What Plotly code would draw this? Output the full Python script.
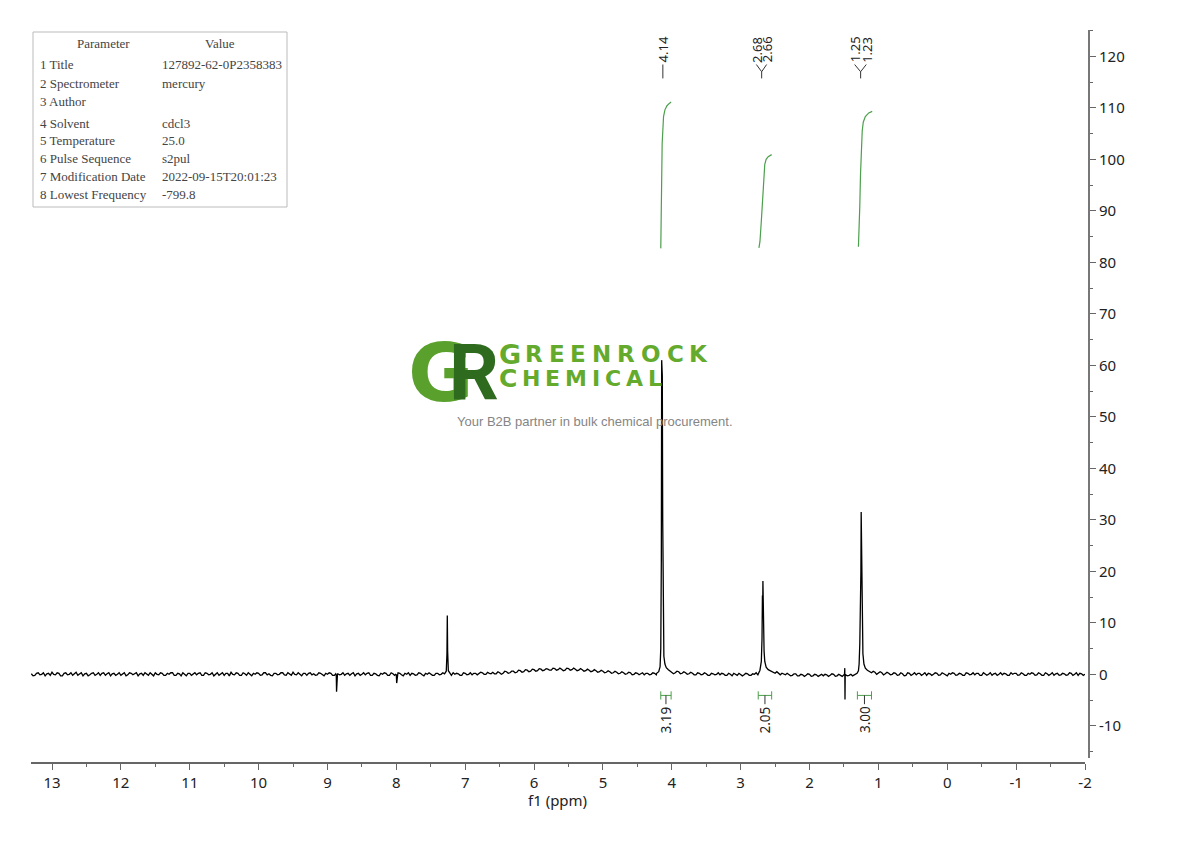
import plotly.graph_objects as go

# ---------------- spectrum data ----------------
# baseline sampled every 0.05 ppm from 13.30 down to -2.00
base_start = 13.30
base_step = 0.05
base_int = [
    0.1, -0.2, 0.3, 0.0, -0.3, 0.2, 0.4, -0.1, 0.2, -0.3,
    0.3, 0.0, -0.2, 0.4, 0.1, -0.3, 0.2, -0.1, 0.3, 0.0,
    -0.2, 0.3, 0.1, -0.3, 0.2, 0.0, -0.2, 0.3, -0.1, 0.2,
    0.1, -0.3, 0.2, 0.3, -0.2, 0.0, 0.3, -0.1, 0.2, -0.2,
    0.0, 0.3, -0.2, 0.1, 0.3, -0.3, 0.2, 0.0, -0.1, 0.3,
    -0.2, 0.2, 0.0, -0.3, 0.3, 0.1, -0.2, 0.2, 0.4, -0.1,
    0.2, -0.2, 0.1, 0.3, -0.3, 0.0, 0.2, -0.1, 0.3, 0.1,
    -0.3, 0.2, 0.0, 0.3, -0.2, 0.1, 0.4, -0.1, 0.0, 0.2,
    -0.2, 0.3, 0.1, -0.1, 0.2, -0.3, 0.0, 0.2, -0.2, 0.1,
    0.0, -0.2, 0.2, 0.1, -0.3, 0.2, 0.0, -0.1, 0.3, -0.2,
    0.1, -0.3, 0.0, 0.2, -0.2, 0.1, -0.1, 0.2, -0.3, 0.0,
    -0.2, 0.1, -0.1, 0.2, -0.3, 0.0, 0.1, -0.2, 0.2, 0.0,
    0.1, 0.2, -0.2, 0.0, 0.1, -0.2, 0.2, 0.0, -0.1, 0.2,
    0.1, 0.3, 0.0, 0.2, 0.4, 0.1, 0.3, 0.2, 0.5, 0.3,
    0.6, 0.4, 0.7, 0.5, 0.8, 0.6, 0.9, 0.7, 1.0, 0.8,
    1.0, 0.8, 1.1, 0.9, 1.0, 0.8, 1.1, 0.9, 1.0, 0.8,
    0.9, 0.7, 0.8, 0.6, 0.7, 0.5, 0.6, 0.4, 0.5, 0.3,
    0.4, 0.2, 0.3, 0.1, 0.3, 0.0, 0.2, 0.1, -0.1, 0.2,
    0.0, 0.2, -0.1, 0.1, 0.3, 0.2, 0.4, 0.3, 0.5, 0.2,
    0.3, 0.1, 0.2, -0.1, 0.2, 0.0, 0.1, -0.2, 0.1, 0.0,
    -0.1, 0.1, -0.2, 0.0, 0.2, -0.2, 0.0, -0.1, 0.1, -0.2,
    0.0, -0.1, 0.2, 0.1, 0.3, 0.4, 0.2, 0.1, 0.2, -0.1,
    0.0, -0.2, 0.1, -0.3, -0.1, -0.2, 0.0, -0.3, -0.1, -0.2,
    -0.3, -0.1, -0.2, 0.0, -0.3, -0.2, -0.1, -0.3, 0.0, -0.1,
    0.2, 0.4, 0.3, 0.5, 0.3, 0.4, 0.2, 0.3, 0.1, 0.2,
    0.0, 0.2, -0.1, 0.1, -0.2, 0.2, 0.0, -0.1, 0.2, 0.0,
    -0.2, 0.1, 0.0, 0.2, -0.1, 0.1, -0.3, 0.0, 0.2, -0.1,
    0.1, -0.2, 0.2, 0.0, -0.1, 0.2, -0.2, 0.1, 0.0, -0.2,
    0.2, 0.0, -0.1, 0.1, -0.2, 0.0, 0.2, -0.1, 0.1, -0.2,
    0.0, 0.2, -0.1, 0.1, -0.2, 0.1, 0.0, -0.2, 0.2, -0.1,
    0.1, -0.1, 0.2, 0.0, -0.2, 0.1, 0.0,
]
# baseline between those samples (13.275, 13.225, ... -1.975)
mid_start = 13.275
mid_int = [
    -0.3, 0.2, -0.1, 0.3, 0.1, -0.2, 0.0, 0.3, -0.3, 0.2,
    -0.1, 0.3, 0.2, -0.2, 0.3, 0.1, -0.3, 0.2, -0.2, 0.3,
    0.2, -0.2, 0.3, 0.1, -0.2, 0.3, 0.1, -0.3, 0.3, -0.1,
    0.3, 0.1, -0.2, 0.0, 0.3, -0.3, 0.0, 0.3, -0.2, 0.2,
    0.3, -0.2, 0.2, -0.3, 0.0, 0.2, -0.2, 0.3, 0.2, -0.2,
    0.3, -0.1, 0.3, 0.1, -0.2, 0.3, 0.2, -0.3, 0.0, 0.3,
    -0.2, 0.3, -0.2, 0.0, 0.2, 0.3, -0.2, 0.3, -0.1, -0.2,
    0.2, -0.1, 0.3, -0.1, 0.3, -0.2, 0.0, 0.3, -0.3, 0.2,
    0.2, -0.1, -0.2, 0.3, -0.1, 0.2, 0.3, -0.2, 0.3, -0.1,
    0.3, 0.1, -0.2, 0.3, 0.1, -0.2, 0.3, 0.2, -0.2, 0.2,
    -0.2, 0.2, 0.3, -0.2, 0.3, -0.2, 0.3, -0.1, 0.2, 0.3,
    0.2, -0.2, 0.3, -0.1, 0.2, 0.3, -0.2, 0.2, -0.1, 0.3,
    -0.1, -0.1, 0.3, 0.2, -0.2, 0.3, -0.1, 0.3, 0.2, -0.1,
    0.4, 0.0, 0.4, 0.1, 0.1, 0.5, 0.0, 0.6, 0.2, 0.6,
    0.3, 0.8, 0.4, 0.9, 0.5, 1.0, 0.6, 1.1, 0.7, 1.1,
    0.8, 1.2, 0.8, 1.2, 0.7, 1.2, 0.8, 1.2, 0.7, 1.1,
    0.6, 1.0, 0.5, 0.9, 0.4, 0.8, 0.3, 0.7, 0.2, 0.6,
    0.1, 0.5, 0.0, 0.4, -0.1, 0.3, -0.1, 0.3, 0.2, -0.1,
    0.3, -0.1, 0.3, 0.0, 0.1, 0.5, 0.1, 0.6, 0.1, 0.5,
    0.0, 0.4, -0.1, 0.3, -0.1, 0.3, -0.2, 0.2, -0.1, 0.3,
    0.2, -0.2, 0.2, -0.3, 0.0, 0.2, -0.3, 0.2, -0.2, 0.1,
    0.3, 0.2, -0.1, 0.4, 0.0, 0.1, 0.5, -0.1, 0.0, 0.2,
    -0.3, 0.1, -0.3, 0.0, -0.4, 0.1, -0.4, 0.0, -0.4, 0.0,
    0.0, -0.4, 0.1, -0.4, 0.0, -0.4, 0.1, -0.2, -0.3, 0.2,
    0.5, 0.1, 0.6, 0.1, 0.6, 0.0, 0.5, -0.1, 0.4, -0.1,
    0.3, -0.2, 0.3, -0.3, 0.3, -0.2, 0.3, 0.2, -0.2, 0.3,
    0.2, -0.2, 0.3, -0.2, 0.3, -0.1, 0.2, 0.3, -0.2, 0.2,
    -0.2, 0.3, -0.1, 0.3, 0.2, -0.2, 0.3, -0.2, 0.3, 0.1,
    -0.2, 0.3, 0.2, -0.2, 0.3, 0.2, -0.2, 0.3, -0.2, 0.2,
    0.3, -0.2, 0.3, -0.2, 0.3, -0.2, 0.3, 0.1, -0.2, 0.2,
    -0.2, 0.3, -0.2, 0.3, 0.2, -0.2,
]

# signals (ppm, intensity)
spike_887_ppm = [8.88, 8.872, 8.868, 8.864, 8.855]
spike_887_int = [0.1, -0.2, -3.4, -0.3, 0.0]
spike_800_ppm = [8.01, 8.0, 7.995, 7.99, 7.98]
spike_800_int = [0.0, -0.1, -1.7, -0.2, 0.0]
chcl3_ppm = [7.30, 7.275, 7.265, 7.26, 7.255, 7.245, 7.22]
chcl3_int = [0.1, 0.6, 4.0, 11.4, 4.5, 0.7, 0.2]
q414_ppm = [4.22, 4.19, 4.17, 4.16, 4.152, 4.147, 4.143, 4.138, 4.132, 4.125, 4.115, 4.10, 4.08, 4.05, 4.02]
q414_int = [0.2, 0.5, 1.5, 5.0, 22.0, 61.0, 52.0, 58.0, 30.0, 9.0, 3.5, 2.0, 1.3, 0.9, 0.5]
t267_ppm = [2.74, 2.72, 2.70, 2.69, 2.684, 2.68, 2.677, 2.674, 2.67, 2.665, 2.66, 2.65, 2.63, 2.60, 2.55, 2.51]
t267_int = [0.2, 0.8, 2.5, 7.0, 15.3, 13.0, 18.1, 14.5, 12.0, 7.5, 4.5, 2.5, 1.4, 0.9, 0.5, 0.3]
spike_149_ppm = [1.50, 1.492, 1.488, 1.485, 1.482, 1.475]
spike_149_int = [-0.1, 0.0, 1.2, -4.9, -0.2, -0.1]
t124_ppm = [1.31, 1.29, 1.28, 1.27, 1.262, 1.258, 1.254, 1.25, 1.246, 1.242, 1.238, 1.232, 1.225, 1.21, 1.19, 1.16, 1.12]
t124_int = [0.2, 0.7, 2.0, 6.0, 13.0, 14.5, 20.0, 31.5, 27.0, 20.2, 16.0, 9.0, 4.0, 2.0, 1.2, 0.8, 0.4]

signals = [
    (spike_887_ppm, spike_887_int), (spike_800_ppm, spike_800_int),
    (chcl3_ppm, chcl3_int), (q414_ppm, q414_int), (t267_ppm, t267_int),
    (spike_149_ppm, spike_149_int), (t124_ppm, t124_int),
]

# integral curves
int1_ppm = [4.16, 4.155, 4.15, 4.145, 4.14, 4.13, 4.12, 4.10, 4.07, 4.04, 4.01]
int1_val = [82.7, 86.0, 92.0, 98.0, 103.0, 106.5, 108.3, 109.6, 110.4, 110.8, 111.1]
int2_ppm = [2.735, 2.72, 2.70, 2.68, 2.665, 2.65, 2.63, 2.60, 2.55]
int2_val = [82.8, 84.0, 88.0, 93.0, 97.0, 99.0, 100.0, 100.5, 100.9]
int3_ppm = [1.29, 1.28, 1.27, 1.26, 1.25, 1.235, 1.22, 1.19, 1.14, 1.09]
int3_val = [83.0, 86.0, 91.0, 97.0, 102.0, 105.5, 107.2, 108.3, 109.0, 109.3]

integral_ranges = [(4.16, 4.01), (2.745, 2.55), (1.305, 1.10)]
integral_labels = ["3.19", "2.05", "3.00"]

peak_labels = ["4.14", "2.68", "2.66", "1.25", "1.23"]

x_ticks = [13, 12, 11, 10, 9, 8, 7, 6, 5, 4, 3, 2, 1, 0, -1, -2]
y_ticks = [-10, 0, 10, 20, 30, 40, 50, 60, 70, 80, 90, 100, 110, 120]

param_names = ["1 Title", "2 Spectrometer", "3 Author", "4 Solvent", "5 Temperature",
               "6 Pulse Sequence", "7 Modification Date", "8 Lowest Frequency"]
param_values = ["127892-62-0P2358383", "mercury", "", "cdcl3", "25.0",
                "s2pul", "2022-09-15T20:01:23", "-799.8"]

# ---------------- assemble spectrum ----------------
pts = []
for start, vals in [(base_start, base_int), (mid_start, mid_int)]:
    for i, v in enumerate(vals):
        p = round(start - i * base_step, 3)
        if any(min(sp) <= p <= max(sp) for sp, _ in signals):
            continue
        pts.append((p, v))
for sp, si in signals:
    pts.extend(zip(sp, si))
pts.sort(key=lambda t: -t[0])
spec_ppm = [p for p, _ in pts]
spec_int = [v for _, v in pts]

# ---------------- layout geometry ----------------
# the page body has an 8px margin, so the figure is 8px smaller than the window
OFF = 8
W, H = 1190 - OFF, 841 - OFF
ML, MR, MT, MB = 31 - OFF, 101, 30 - OFF, 78
PW = W - ML - MR
PH = H - MT - MB


def pxx(x):
    # window pixel -> paper x
    return (x - OFF - ML) / PW


def pxy(y):
    # window pixel -> paper y
    return (H - MB - (y - OFF)) / PH


GREEN = "#4c9f4c"
AXIS = "#666666"
FONT = "Noto Sans"

fig = go.Figure()

fig.add_trace(go.Scatter(x=spec_ppm, y=spec_int, mode="lines",
                         line=dict(color="black", width=1.3), hoverinfo="skip"))

for ip, iv in [(int1_ppm, int1_val), (int2_ppm, int2_val), (int3_ppm, int3_val)]:
    fig.add_trace(go.Scatter(x=ip, y=iv, mode="lines",
                             line=dict(color=GREEN, width=1.2), hoverinfo="skip"))

# integral brackets under the peaks
yb, cap = -4.1, 0.8
bx, by, dx, dy = [], [], [], []
for a, b in integral_ranges:
    bx += [a, a, None, a, b, None, b, b, None]
    by += [yb - cap, yb + cap, None, yb, yb, None, yb - cap, yb + cap, None]
    c = (a + b) / 2
    dx += [c, c, None]
    dy += [yb, -5.8, None]
fig.add_trace(go.Scatter(x=bx, y=by, mode="lines", line=dict(color=GREEN, width=1), hoverinfo="skip"))
fig.add_trace(go.Scatter(x=dx, y=dy, mode="lines", line=dict(color="#333", width=1), hoverinfo="skip"))

for (a, b), lab in zip(integral_ranges, integral_labels):
    fig.add_annotation(x=(a + b) / 2, y=-8.8, xref="x", yref="y", text=lab, textangle=-90,
                       showarrow=False, font=dict(family=FONT, size=13.5, color="#222"),
                       xanchor="center", yanchor="middle")

# peak labels at the top, with their connectors
label_x = [4.13, 2.772, 2.623, 1.345, 1.176]
for lx, lab in zip(label_x, peak_labels):
    fig.add_annotation(x=lx, y=121.3, xref="x", yref="y", text=lab, textangle=-90,
                       showarrow=False, font=dict(family=FONT, size=13, color="#222"),
                       xanchor="center", yanchor="middle")
cx = [4.13, 4.13, None,
      2.772, 2.695, 2.623, None, 2.695, 2.695, None,
      1.345, 1.258, 1.176, None, 1.258, 1.258, None]
cy = [115.7, 118.4, None,
      118.4, 117.0, 118.4, None, 117.0, 115.7, None,
      118.4, 117.0, 118.4, None, 117.0, 115.7, None]
fig.add_trace(go.Scatter(x=cx, y=cy, mode="lines", line=dict(color="#333", width=1), hoverinfo="skip"))

# parameter table
fig.add_shape(type="rect", xref="paper", yref="paper", x0=pxx(33), x1=pxx(287), y0=pxy(32), y1=pxy(207),
              line=dict(color="#bbbbbb", width=1), fillcolor="white")
TF = dict(family="Liberation Serif", size=13, color="#444")
fig.add_annotation(x=pxx(103), y=pxy(44), xref="paper", yref="paper", text="Parameter",
                   showarrow=False, font=TF, xanchor="center", yanchor="middle")
fig.add_annotation(x=pxx(220), y=pxy(44), xref="paper", yref="paper", text="Value",
                   showarrow=False, font=TF, xanchor="center", yanchor="middle")
row_y = [65, 83.3, 101, 123.3, 141, 159, 176.7, 194.3]
for ry, name, val in zip(row_y, param_names, param_values):
    fig.add_annotation(x=pxx(38), y=pxy(ry), xref="paper", yref="paper", text=name,
                       showarrow=False, font=TF, xanchor="left", yanchor="middle")
    if val:
        fig.add_annotation(x=pxx(160), y=pxy(ry), xref="paper", yref="paper", text=val,
                           showarrow=False, font=TF, xanchor="left", yanchor="middle")

# watermark logo
fig.add_annotation(x=pxx(441), y=pxy(374), xref="paper", yref="paper", text="<b>G</b>",
                   showarrow=False, font=dict(family="DejaVu Sans", size=80, color="#5aa02c"),
                   xanchor="center", yanchor="middle")
fig.add_annotation(x=pxx(474), y=pxy(374), xref="paper", yref="paper", text="<b>R</b>",
                   showarrow=False, font=dict(family="Roboto", size=78, color="#2e6b1e"),
                   xanchor="center", yanchor="middle")
word1 = [("G", 509.5, 27), ("R", 534, 23), ("E", 556.5, 23), ("E", 578, 23), ("N", 601.5, 23),
         ("R", 626, 23), ("O", 650.5, 23), ("C", 675, 23), ("K", 698, 23)]
word2 = [("C", 508, 25), ("H", 530.5, 22), ("E", 552, 22), ("M", 576, 22), ("I", 596, 22),
         ("C", 613, 22), ("A", 634, 22), ("L", 655, 22)]
for letters, yy in [(word1, 354), (word2, 378)]:
    for ch, xx, sz in letters:
        fig.add_annotation(x=pxx(xx), y=pxy(yy), xref="paper", yref="paper", text="<b>" + ch + "</b>",
                           showarrow=False, font=dict(family="DejaVu Sans", size=sz, color="#64aa2d"),
                           xanchor="center", yanchor="middle")
fig.add_annotation(x=pxx(594.5), y=pxy(421), xref="paper", yref="paper",
                   text="Your B2B partner in bulk chemical procurement.",
                   showarrow=False, font=dict(family="Liberation Sans", size=13, color="#858585"),
                   xanchor="center", yanchor="middle")

# axis title
fig.add_annotation(x=pxx(557), y=pxy(800), xref="paper", yref="paper", text="f1 (ppm)",
                   showarrow=False, font=dict(family=FONT, size=15, color="#222"),
                   xanchor="center", yanchor="middle")

fig.update_layout(
    width=W, height=H,
    margin=dict(l=ML, r=MR, t=MT, b=MB),
    paper_bgcolor="white", plot_bgcolor="white",
    showlegend=False,
    xaxis=dict(range=[13.305, -2.0], domain=[0, (1085 - 31) / PW], anchor="free", position=0,
               showgrid=False, zeroline=False, showline=True, linecolor=AXIS, linewidth=1.5,
               ticks="outside", ticklen=6, tickcolor=AXIS, tickwidth=1.2,
               tickmode="array", tickvals=x_ticks, ticktext=[str(t) for t in x_ticks],
               tickfont=dict(family=FONT, size=15, color="#222"),
               minor=dict(tickmode="linear", tick0=0, dtick=0.5, ticks="outside", ticklen=3,
                          tickcolor=AXIS)),
    yaxis=dict(range=[-16.25, 125.1], domain=[5 / PH, 1], side="right", anchor="free", position=1,
               showgrid=False, zeroline=False, showline=True, linecolor="#777777", linewidth=2,
               ticks="outside", ticklen=6, tickcolor=AXIS, tickwidth=1.2,
               tickmode="array", tickvals=y_ticks, ticktext=[str(t) for t in y_ticks],
               tickfont=dict(family=FONT, size=15, color="#222"),
               minor=dict(tickmode="linear", tick0=0, dtick=5, ticks="outside", ticklen=3,
                          tickcolor=AXIS)),
)

fig.write_html("out.html")
